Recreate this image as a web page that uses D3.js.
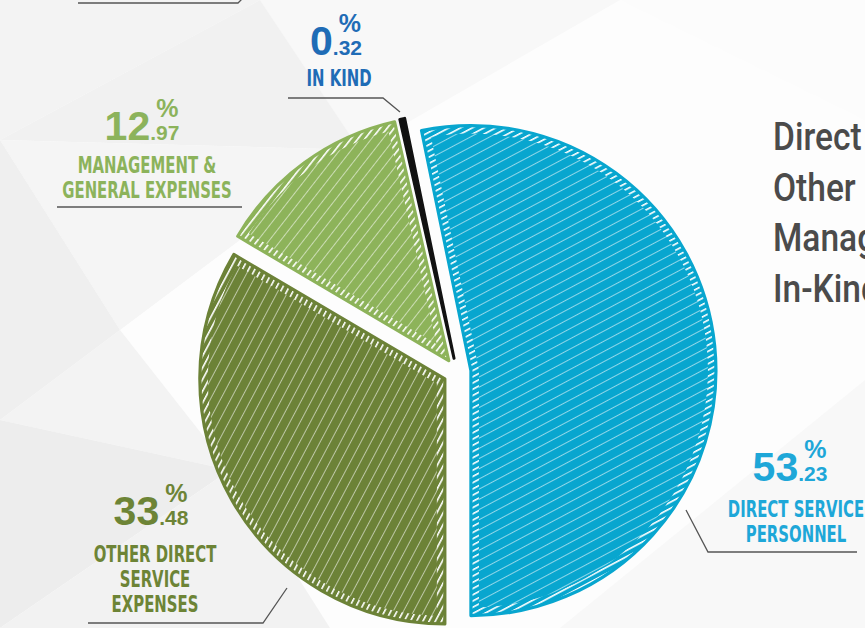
<!DOCTYPE html>
<html>
<head>
<meta charset="utf-8">
<script src="https://cdn.jsdelivr.net/npm/d3@7"></script>
<style>
  html, body { margin: 0; padding: 0; background: #fff; overflow: hidden; }
  svg { display: block; }
</style>
</head>
<body>
<svg id="chart"></svg>
<script>

// Data
const categories = ["Direct Service Personnel", "Other Direct Service Expenses", "Management & General Expenses", "In-Kind"];
const values = [53.23, 33.48, 12.97, 0.32];
const labelLines = [["DIRECT SERVICE", "PERSONNEL"], ["OTHER DIRECT", "SERVICE", "EXPENSES"], ["MANAGEMENT &", "GENERAL EXPENSES"], ["IN KIND"]];

// Styles
const sliceColours = ["#08a6cf", "#6c8237", "#8db35a", "#111111"];
const labelColours = ["#1ea7d8", "#6d8436", "#8cb35b", "#1f6cb6"];
const hatchAngles = [-28, -62, -52, 0];

var local = {
    "svgwidth": 865,
    "svgheight": 628,
    "cx": 457,
    "cy": 372,
    "radius": 245,
    "explode": 14,
    "legend": {"x": 773, "y": 150, "step": 50.7, "size": 39, "squeeze": 0.86}
};

// Where each annotation sits: number centre, text centre, number baseline, first text baseline, leader line
const labelLayout = [
    {"nx": 790, "x": 796, "y": 481, "textY": 517, "step": 25, "leader": [[686, 510], [708, 552], [857, 552]]},
    {"nx": 151, "x": 155, "y": 525, "textY": 562, "step": 25, "leader": [[287, 588], [263, 623], [88, 623]]},
    {"nx": 142, "x": 147, "y": 140, "textY": 173, "step": 25, "leader": [[57, 207], [242, 207]]},
    {"nx": 336, "x": 339, "y": 55, "textY": 86, "step": 25, "leader": [[288, 98], [383, 98], [400, 112]]}
];

// Faint low-poly backdrop
const backdrop = [
    [[0, 0], [260, 0], [0, 140], "#f3f3f3"],
    [[260, 0], [620, 0], [360, 150], "#f8f8f8"],
    [[0, 140], [260, 0], [360, 150], "#f1f1f1"],
    [[0, 140], [360, 150], [120, 330], "#f5f5f5"],
    [[0, 140], [120, 330], [0, 420], "#efefef"],
    [[0, 420], [120, 330], [230, 470], "#f3f3f3"],
    [[0, 420], [230, 470], [0, 628], "#ededed"],
    [[0, 628], [230, 470], [330, 628], "#f2f2f2"],
    [[620, 0], [865, 0], [865, 120], "#fcfcfc"],
    [[560, 628], [865, 380], [865, 628], "#f8f8f8"]
];

const svg = d3.select("#chart")
    .attr("width", local.svgwidth)
    .attr("height", local.svgheight);

svg.append("rect")
    .attr("width", local.svgwidth)
    .attr("height", local.svgheight)
    .attr("fill", "#fdfdfd");

svg.append("g").selectAll("polygon")
    .data(backdrop)
    .enter()
    .append("polygon")
    .attr("points", function(d){ return d.slice(0, 3).map(function(p){ return p.join(","); }).join(" "); })
    .attr("fill", function(d){ return d[3]; });

// Hatch patterns
const defs = svg.append("defs");
sliceColours.forEach(function(c, i){
    var p = defs.append("pattern")
        .attr("id", "hatch" + i)
        .attr("patternUnits", "userSpaceOnUse")
        .attr("width", 9).attr("height", 9)
        .attr("patternTransform", "rotate(" + hatchAngles[i] + ")");
    p.append("rect").attr("width", 9).attr("height", 9).attr("fill", c);
    p.append("rect").attr("width", 9).attr("height", 1).attr("fill", "#fff").attr("opacity", 0.55);

    var e = defs.append("pattern")
        .attr("id", "edge" + i)
        .attr("patternUnits", "userSpaceOnUse")
        .attr("width", 5.5).attr("height", 5.5)
        .attr("patternTransform", "rotate(" + hatchAngles[i] + ")");
    e.append("rect").attr("width", 5.5).attr("height", 5.5).attr("fill", "#fff");
    e.append("rect").attr("y", 1.6).attr("width", 5.5).attr("height", 3.9).attr("fill", c);
});

// Pie: first slice ends at six o'clock
const total = d3.sum(values);
const start = Math.PI - values[0] / total * 2 * Math.PI;
const pie = d3.pie().sort(null).startAngle(start).endAngle(start + 2 * Math.PI);
const arc = d3.arc().innerRadius(0).outerRadius(local.radius);
const arcs = pie(values);

const slices = svg.append("g").selectAll(".slice")
    .data(arcs)
    .enter()
    .append("g")
    .attr("class", "slice")
    .attr("transform", function(d){
        var mid = (d.startAngle + d.endAngle) / 2;
        return "translate(" + (local.cx + local.explode * Math.sin(mid)) + "," + (local.cy - local.explode * Math.cos(mid)) + ")";
    });

slices.append("clipPath")
    .attr("id", function(d, i){ return "clip" + i; })
    .append("path")
    .attr("d", arc);

slices.append("path")
    .attr("d", arc)
    .attr("fill", function(d, i){ return i == 3 ? sliceColours[i] : "url(#hatch" + i + ")"; });

slices.filter(function(d, i){ return i != 3; })
    .append("path")
    .attr("d", arc)
    .attr("fill", "none")
    .attr("stroke", function(d, i){ return "url(#edge" + i + ")"; })
    .attr("stroke-width", 16)
    .attr("clip-path", function(d, i){ return "url(#clip" + i + ")"; });

slices.append("path")
    .attr("d", arc)
    .attr("fill", "none")
    .attr("stroke", function(d, i){ return sliceColours[i]; })
    .attr("stroke-width", function(d, i){ return i == 3 ? 3 : 3.2; })
    .attr("stroke-linejoin", "round")
    .attr("stroke-linecap", "round");

// Annotations
const numFont = "'Liberation Sans', Arial, sans-serif";
const handFont = "'Liberation Sans Narrow', 'DejaVu Sans Condensed', sans-serif";

const notes = svg.append("g");
arcs.forEach(function(d, i){
    var lay = labelLayout[i];
    var g = notes.append("g").attr("fill", labelColours[i]);
    var parts = values[i].toFixed(2).split(".");

    var whole = g.append("text")
        .attr("font-family", numFont).attr("font-weight", "bold")
        .attr("font-size", 41).attr("y", lay.y)
        .text(parts[0]);
    var frac = g.append("text")
        .attr("font-family", numFont).attr("font-weight", "bold")
        .attr("font-size", 21).attr("y", lay.y)
        .text("." + parts[1]);
    var w1 = whole.node().getComputedTextLength();
    var w2 = frac.node().getComputedTextLength();
    var x0 = lay.nx - (w1 + w2) / 2;
    whole.attr("x", x0);
    frac.attr("x", x0 + w1);
    g.append("text")
        .attr("font-family", numFont).attr("font-weight", "bold")
        .attr("font-size", 25).attr("text-anchor", "end")
        .attr("x", x0 + w1 + w2 - 1).attr("y", lay.y - 23)
        .text("%");

    labelLines[i].forEach(function(line, j){
        g.append("text")
            .attr("font-family", handFont)
            .attr("font-weight", "bold")
            .attr("font-size", 23)
            .attr("text-anchor", "middle")
            .attr("transform", "translate(" + lay.x + "," + (lay.textY + j * lay.step) + ") scale(0.72,1)")
            .text(line);
    });

    notes.append("path")
        .attr("d", d3.line()(lay.leader))
        .attr("fill", "none")
        .attr("stroke", "#555")
        .attr("stroke-width", 1.3);
});

// Leader from a label above the picture
notes.append("path")
    .attr("d", d3.line()([[78, 3], [238, 3], [243, -2]]))
    .attr("fill", "none")
    .attr("stroke", "#555")
    .attr("stroke-width", 1.3);

// Legend (runs off the right edge, as in the original crop)
svg.append("g").selectAll("text")
    .data(categories)
    .enter()
    .append("text")
    .attr("transform", function(d, i){
        return "translate(" + local.legend.x + "," + (local.legend.y + i * local.legend.step) + ") scale(" + local.legend.squeeze + ",1)";
    })
    .attr("font-family", "Roboto, sans-serif")
    .attr("font-weight", 500)
    .attr("font-size", local.legend.size)
    .attr("fill", "#4b4b4b")
    .text(function(d){ return d; });

</script>
</body>
</html>
